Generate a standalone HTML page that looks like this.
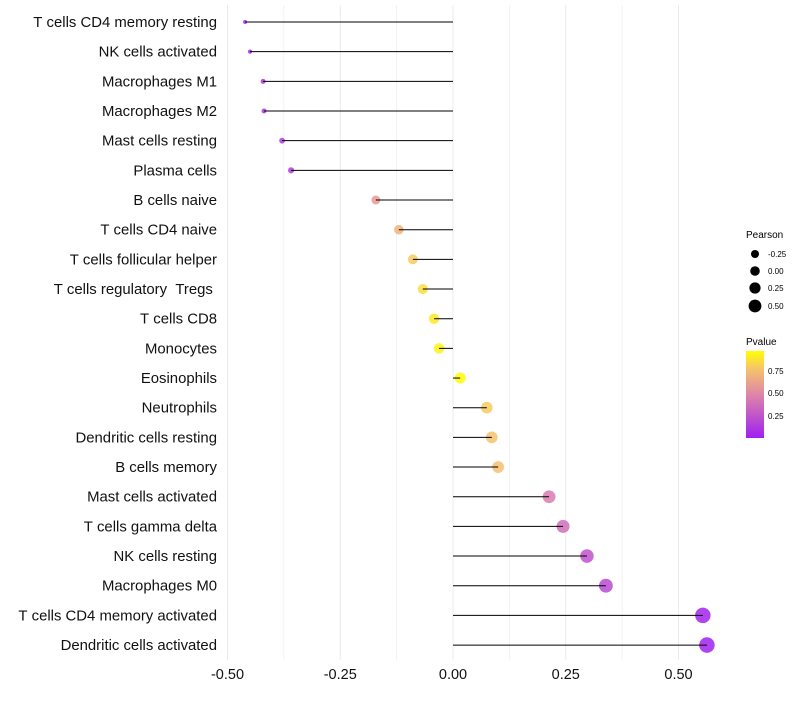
<!DOCTYPE html>
<html><head><meta charset="utf-8"><style>
body{margin:0;background:#fff;font-family:"Liberation Sans",sans-serif}
</style></head><body>
<svg id="chart" width="800" height="700" xmlns="http://www.w3.org/2000/svg" font-family="Liberation Sans, sans-serif">
<defs><linearGradient id="pg" x1="0" y1="1" x2="0" y2="0">
<stop offset="0" stop-color="#A020F0"/><stop offset="0.5" stop-color="#DE86A8"/><stop offset="0.8" stop-color="#F6C46A"/><stop offset="1" stop-color="#FFFF00"/></linearGradient></defs>
<g id="grid"></g>
<g id="marks"></g>
<g id="ylabels"></g>
<g id="xlabels"></g>
<g font-size="10">
<text x="746" y="238" fill="#000">Pearson</text>
<circle cx="755" cy="254" r="4" fill="#000"/><text x="768" y="257" font-size="8">-0.25</text>
<circle cx="755" cy="271" r="4.8" fill="#000"/><text x="768" y="274" font-size="8">0.00</text>
<circle cx="755" cy="288" r="5.6" fill="#000"/><text x="768" y="291" font-size="8">0.25</text>
<circle cx="755" cy="306" r="6.4" fill="#000"/><text x="768" y="309" font-size="8">0.50</text>
</g>
<g font-size="10">
<text x="746" y="345" fill="#000">Pvalue</text>
<rect x="746" y="351" width="18" height="87" fill="url(#pg)"/>
<text x="768" y="374" font-size="8">0.75</text>
<text x="768" y="396" font-size="8">0.50</text>
<text x="768" y="419" font-size="8">0.25</text>
</g>
</svg>
<script>
const categories=["T cells CD4 memory resting","NK cells activated","Macrophages M1","Macrophages M2","Mast cells resting","Plasma cells","B cells naive","T cells CD4 naive","T cells follicular helper","T cells regulatory  Tregs ","T cells CD8","Monocytes","Eosinophils","Neutrophils","Dendritic cells resting","B cells memory","Mast cells activated","T cells gamma delta","NK cells resting","Macrophages M0","T cells CD4 memory activated","Dendritic cells activated"];
const pearson=[-0.461,-0.450,-0.421,-0.419,-0.379,-0.359,-0.171,-0.120,-0.089,-0.067,-0.042,-0.031,0.016,0.075,0.086,0.100,0.213,0.244,0.297,0.339,0.554,0.563];
const pvalue=[0.03,0.05,0.09,0.10,0.14,0.15,0.6,0.72,0.82,0.88,0.93,0.96,0.99,0.82,0.79,0.78,0.45,0.38,0.25,0.2,0.02,0.01];
const xTicks=[-0.5,-0.25,0,0.25,0.5];
const xTickLabels=["-0.50","-0.25","0.00","0.25","0.50"];
const NS="http://www.w3.org/2000/svg";
const x=v=>453+v*451;
const y=i=>22+i*29.67;
const r=v=>Math.sqrt(Math.max(2,4+55*(v+0.46)));
function lerp(a,b,t){return a.map((c,k)=>Math.round(c+(b[k]-c)*t));}
function color(p){const st=[[0,[160,32,240]],[0.5,[222,134,168]],[0.8,[246,196,106]],[1,[255,255,0]]];
for(let k=1;k<st.length;k++){if(p<=st[k][0]){const t=(p-st[k-1][0])/(st[k][0]-st[k-1][0]);const c=lerp(st[k-1][1],st[k][1],t);return `rgb(${c})`;}}return "rgb(255,255,0)";}
function mk(t,a,p){const e=document.createElementNS(NS,t);for(const k in a)e.setAttribute(k,a[k]);p.appendChild(e);return e;}
const grid=document.getElementById('grid'),marks=document.getElementById('marks'),yl=document.getElementById('ylabels'),xl=document.getElementById('xlabels');
for(let v=-0.5;v<=0.5001;v+=0.125){const g=mk('line',{x1:x(v),x2:x(v),y1:5,y2:660,stroke:'#ebebeb','stroke-width':v*8%2==0?1:0.6},grid);

}
categories.forEach((c,i)=>{
const pt=mk('circle',{cx:x(pearson[i]),cy:y(i),r:r(pearson[i]),fill:color(pvalue[i]),'fill-opacity':0.85},marks);


const ln=mk('line',{x1:x(0),x2:x(pearson[i]),y1:y(i),y2:y(i),stroke:'#000','stroke-width':1},marks);


const t=mk('text',{x:217,y:y(i)+5,'text-anchor':'end','font-size':14.9,fill:'#111'},yl);t.textContent=c.replace(/ /g,'\u00a0');


});
xTicks.forEach((v,i)=>{const t=mk('text',{x:x(v),y:679,'text-anchor':'middle','font-size':14.5,fill:'#111'},xl);t.textContent=xTickLabels[i];

});
</script>
</body></html>
